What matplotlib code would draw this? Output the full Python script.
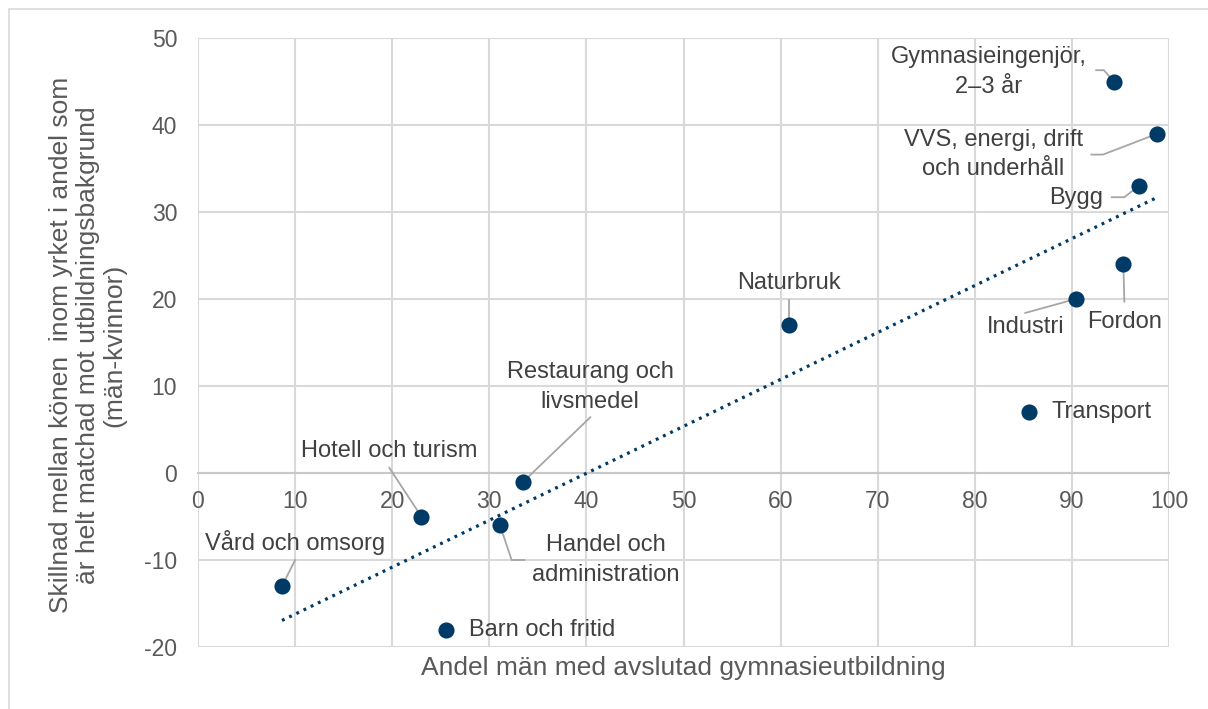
import numpy as np
import matplotlib.pyplot as plt
from matplotlib.patches import Rectangle

plt.rcParams["font.family"] = ["Liberation Sans", "DejaVu Sans"]
plt.rcParams["axes.unicode_minus"] = False

# Data
program = [
    "Vård och omsorg", "Hotell och turism", "Barn och fritid",
    "Handel och\nadministration", "Restaurang och\nlivsmedel", "Naturbruk",
    "Transport", "Industri", "Fordon", "Bygg",
    "Gymnasieingenjör,\n2–3 år", "VVS, energi, drift\noch underhåll",
]
andel_man = [8.65, 23.0, 25.5, 31.1, 33.5, 60.9, 85.6, 90.4, 95.3, 96.9, 94.3, 98.8]
skillnad = [-13, -5, -18, -6, -1, 17, 7, 20, 24, 33, 45, 39]

# Label layout: (text x, text y, ha, leader waypoints before the point)
layout = [
    (10.0, -8.0, "center", [(10.0, -10.0)]),
    (19.7, 2.5, "center", [(19.7, 0.6)]),
    (27.9, -18.0, "left", []),
    (42.0, -10.0, "center", [(33.6, -10.0), (32.3, -10.0)]),
    (40.4, 9.9, "center", [(40.4, 6.4)]),
    (60.9, 21.8, "center", [(60.9, 19.9)]),
    (87.9, 7.0, "left", []),
    (85.2, 16.8, "center", [(85.2, 18.4)]),
    (95.4, 17.4, "center", [(95.4, 19.7)]),
    (90.4, 31.6, "center", [(94.1, 31.7), (95.4, 31.7)]),
    (81.4, 46.1, "center", [(92.5, 46.3), (93.3, 46.3)]),
    (81.9, 36.6, "center", [(92.0, 36.6), (93.2, 36.6)]),
]

PUNKT = "#003A66"
TEXT = "#404040"
AXTEXT = "#595959"
GRID = "#D9D9D9"

fig = plt.figure(figsize=(12.08, 7.09), dpi=100)
fig.patches.append(Rectangle((9 / 1208, -0.1), 1.2, 1 - 9 / 709 + 0.1,
                             transform=fig.transFigure, fill=False,
                             edgecolor="#D9D9D9", linewidth=1.2))
ax = fig.add_axes([198 / 1208, 1 - 647 / 709, 971 / 1208, 609 / 709])

ax.set_xlim(0, 100)
ax.set_ylim(-20, 50)
ax.set_xticks(range(0, 101, 10))
ax.set_yticks(range(-20, 51, 10))
ax.grid(True, color=GRID, linewidth=1.5)
ax.set_axisbelow(True)

for s in ["top", "right", "left"]:
    ax.spines[s].set_visible(False)
ax.spines["bottom"].set_position(("data", 0))
ax.spines["bottom"].set_color("#C8C8C8")
ax.spines["bottom"].set_linewidth(1.5)
ax.tick_params(axis="both", length=0, labelsize=16.5, labelcolor=AXTEXT)
ax.tick_params(axis="x", pad=12)
ax.tick_params(axis="y", pad=15)

# Trendlinje (linjär)
k, m = np.polyfit(andel_man, skillnad, 1)
xt = np.array([min(andel_man), max(andel_man)])
ax.plot(xt, k * xt + m, color=PUNKT, linewidth=2.3,
        linestyle=(0, (0.9, 1.6)), zorder=3)

# Leader lines
for (tx, ty, ha, via), x, y in zip(layout, andel_man, skillnad):
    if via:
        pts = via + [(x, y)]
        ax.plot([p[0] for p in pts], [p[1] for p in pts],
                color="#A6A6A6", linewidth=1.3, zorder=4)

ax.scatter(andel_man, skillnad, s=135, color=PUNKT, zorder=5, linewidths=0)

for (tx, ty, ha, via), namn in zip(layout, program):
    ax.text(tx, ty, namn, ha=ha, va="center", fontsize=17, color=TEXT,
            multialignment="center", linespacing=1.45, zorder=6)

fig.text(683.5 / 1208, 1 - 668 / 709, "Andel män med avslutad gymnasieutbildning",
         ha="center", va="center", fontsize=19, color=AXTEXT)
fig.text(88 / 1208, 1 - 345 / 709,
         "Skillnad mellan könen  inom yrket i andel som\n"
         "är helt matchad mot utbildningsbakgrund\n(män-kvinnor)",
         ha="center", va="center", rotation=90, fontsize=19, color=AXTEXT,
         multialignment="center", linespacing=1.15)

fig.savefig("out.png", dpi=100)
